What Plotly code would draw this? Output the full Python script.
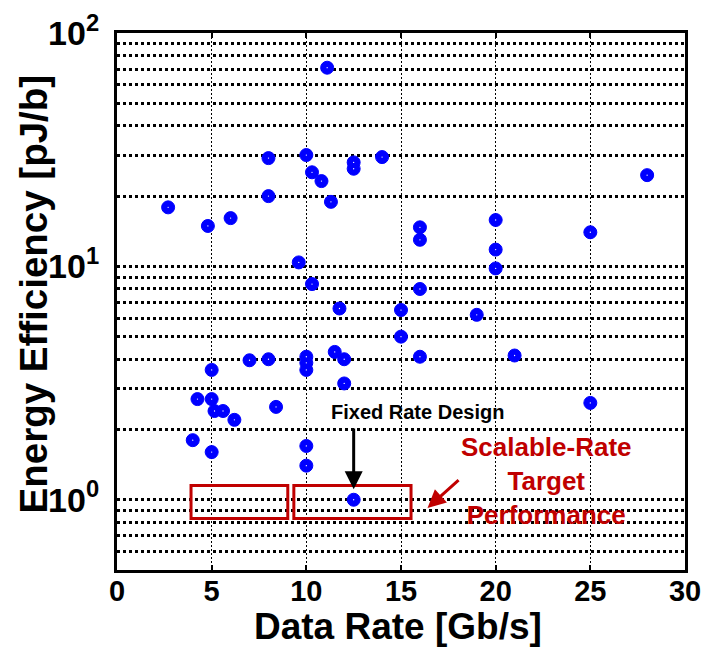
import math
import plotly.graph_objects as go

# ---- data ----
data_rate = [11.1, 8.0, 10.0, 10.3, 10.8, 12.5, 12.5, 14.0, 8.0, 2.7,
             4.8, 6.0, 11.3, 9.6, 10.3, 11.75, 15.0, 28.0, 16.0, 16.0,
             20.0, 20.0, 20.0, 25.0, 16.0, 19.0, 15.0, 11.5, 12.0, 12.0,
             10.0, 10.0, 10.0, 7.0, 8.0, 5.0, 4.25, 5.0, 5.15, 5.6,
             6.2, 8.4, 4.0, 5.0, 10.0, 10.0, 16.0, 21.0, 25.0, 12.5]
energy_eff = [71.0, 29.1, 30.0, 25.3, 23.2, 27.9, 26.2, 29.4, 20.0, 17.9,
              14.9, 16.1, 18.9, 10.4, 8.4, 6.6, 6.5, 24.6, 14.7, 13.0,
              15.8, 11.8, 9.8, 14.0, 8.0, 6.2, 5.0, 4.3, 4.0, 3.15,
              4.1, 3.86, 3.6, 3.96, 4.0, 3.6, 2.7, 2.7, 2.4, 2.4,
              2.2, 2.5, 1.8, 1.6, 1.7, 1.4, 4.1, 4.15, 2.6, 1.0]

x_ticks = [0, 5, 10, 15, 20, 25, 30]
y_major = [1, 10, 100]
y_major_text = ["10<sup>0</sup>", "10<sup>1</sup>", "10<sup>2</sup>"]
y_minor = [0.5, 0.6, 0.7, 0.8, 0.9, 2, 3, 4, 5, 6, 7, 8, 9,
           20, 30, 40, 50, 60, 70, 80, 90]

# target boxes (data coords): [x0, x1, y0, y1]
target_boxes = [[3.91, 9.02, 0.831, 1.15], [9.34, 15.53, 0.831, 1.15]]

# fixed-rate design arrow (data coords)
fixed_arrow_x = 12.5
fixed_arrow_tail = 2.05
fixed_arrow_tip = 1.11

RED = "#C00000"
FONT = "Liberation Sans"

fig = go.Figure()
fig.add_trace(go.Scatter(
    x=data_rate, y=energy_eff, mode="markers",
    marker=dict(color="#0000FF", size=13, line=dict(color="#0000FF", width=1)),
    showlegend=False, hoverinfo="skip"))
# tiny white centre dot, as in the original marker rendering
fig.add_trace(go.Scatter(
    x=data_rate, y=energy_eff, mode="markers",
    marker=dict(color="white", size=1.3, line=dict(width=0)),
    showlegend=False, hoverinfo="skip"))

for b in target_boxes:
    fig.add_shape(type="rect", xref="x", yref="y",
                  x0=b[0], x1=b[1], y0=b[2], y1=b[3],
                  line=dict(color=RED, width=3), fillcolor="rgba(0,0,0,0)")

annotations = [
    dict(x=fixed_arrow_x, y=math.log10(fixed_arrow_tip), xref="x", yref="y",
         ax=fixed_arrow_x, ay=math.log10(fixed_arrow_tail), axref="x", ayref="y",
         text="", showarrow=True, arrowhead=2, arrowsize=1.2, arrowwidth=3,
         arrowcolor="black"),
    dict(x=15.85, y=math.log10(2.38), xref="x", yref="y",
         text="Fixed Rate Design", showarrow=False,
         font=dict(family=FONT, size=20, color="black", weight="bold")),
    dict(x=16.4, y=-0.035, xref="x", yref="y",
         ax=18.12, ay=0.09, axref="x", ayref="y",
         text="", showarrow=True, arrowhead=2, arrowsize=1.2, arrowwidth=3,
         arrowcolor=RED),
    dict(x=22.66, y=math.log10(1.2), xref="x", yref="y",
         text="Scalable-Rate<br>Target<br>Performance", showarrow=False,
         font=dict(family=FONT, size=26, color=RED, weight="bold")),
    # axis titles
    dict(x=0.4947, y=-0.106, xref="paper", yref="paper",
         xanchor="center", yanchor="middle",
         text="Data Rate [Gb/s]", showarrow=False,
         font=dict(family=FONT, size=37, color="black", weight="bold")),
    dict(x=-0.1479, y=0.515, xref="paper", yref="paper",
         xanchor="center", yanchor="middle", textangle=-90,
         text="Energy Efficiency [pJ/b]", showarrow=False,
         font=dict(family=FONT, size=38.5, color="black", weight="bold")),
]

fig.update_layout(
    width=706, height=649,
    margin=dict(l=117, r=21, t=33, b=79, autoexpand=False),
    paper_bgcolor="white", plot_bgcolor="white",
    font=dict(family=FONT, color="black"),
    annotations=annotations,
    xaxis=dict(
        range=[0, 30], tickvals=x_ticks, ticktext=[str(t) for t in x_ticks],
        automargin=False,
        showgrid=True, gridcolor="black", gridwidth=1.3, griddash="2px,2px",
        zeroline=False, showline=True, linecolor="black", linewidth=3, mirror="allticks",
        ticks="inside", ticklen=5, tickwidth=2, tickcolor="black",
        ticklabelstandoff=-7,
        tickfont=dict(family=FONT, size=29, color="black", weight="bold"),
    ),
    yaxis=dict(
        type="log", range=[math.log10(0.5), 2],
        tickvals=y_major, ticktext=y_major_text,
        automargin=False,
        showgrid=True, gridcolor="black", gridwidth=2.5, griddash="3px,3px",
        minor=dict(tickvals=y_minor, showgrid=True, gridcolor="black",
                   gridwidth=2.5, griddash="3px,3px", ticks=""),
        zeroline=False, showline=True, linecolor="black", linewidth=3, mirror=True,
        ticks="", ticklabelstandoff=8,
        tickfont=dict(family=FONT, size=34, color="black", weight="bold"),
    ),
)

fig.write_html("out.html")
